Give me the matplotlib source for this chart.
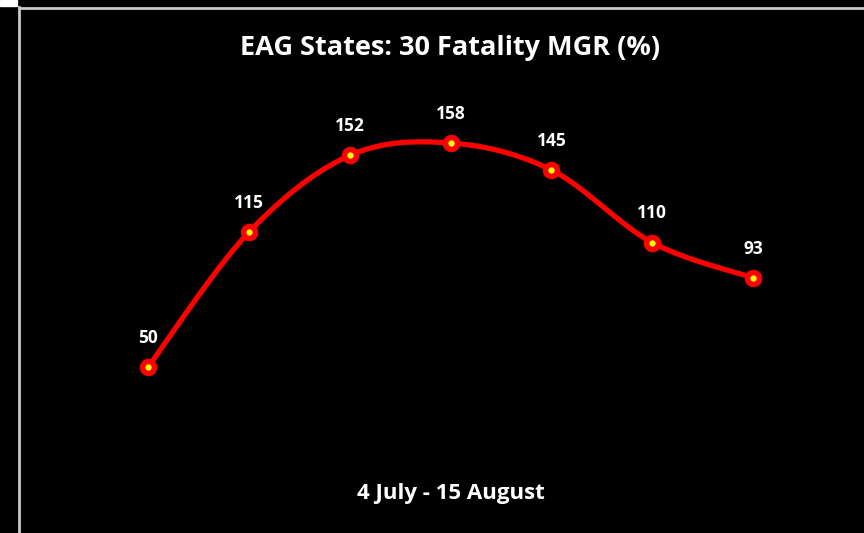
import numpy as np
import matplotlib.pyplot as plt
from matplotlib.lines import Line2D
from matplotlib.patches import Rectangle

# data
periods = ['P1', 'P2', 'P3', 'P4', 'P5', 'P6', 'P7']
mgr = [50, 115, 152, 158, 145, 110, 93]
title = 'EAG States: 30 Fatality MGR (%)'
subtitle = '4 July - 15 August'

plt.rcParams['font.family'] = ['Open Sans', 'DejaVu Sans']


def smooth(xs, ys, n=30):
    # catmull-rom style curve through the points, like a smoothed line in excel
    xs = np.asarray(xs, float)
    ys = np.asarray(ys, float)
    px = np.concatenate([[xs[0]], xs, [xs[-1]]])
    py = np.concatenate([[ys[0]], ys, [ys[-1]]])
    outx, outy = [], []
    for i in range(1, len(px) - 2):
        t = np.linspace(0, 1, n)
        for arr, out in ((px, outx), (py, outy)):
            p0, p1, p2, p3 = arr[i - 1], arr[i], arr[i + 1], arr[i + 2]
            c1 = p1 + (p2 - p0) / 6
            c2 = p2 - (p3 - p1) / 6
            out.extend((1 - t) ** 3 * p1 + 3 * (1 - t) ** 2 * t * c1 + 3 * (1 - t) * t ** 2 * c2 + t ** 3 * p2)
    return np.array(outx), np.array(outy)


fig = plt.figure(figsize=(8.64, 5.33), dpi=100, facecolor='black')
ax = fig.add_axes([0, 0, 1, 1])
ax.set_facecolor('black')
x = np.arange(len(mgr))
sx, sy = smooth(x, mgr)
ax.plot(sx, sy, color='#ff0000', lw=3.8, solid_capstyle='round', zorder=2)
ax.plot(x, mgr, 'o', ms=8.6, mfc='#ffff00', mec='#ff0000', mew=4, zorder=3)
for xi, v in zip(x, mgr):
    ax.annotate(str(v), (xi, v), xytext=(0, 21), textcoords='offset points',
                ha='center', va='center', color='white', fontsize=12.5, fontweight='bold')

ax.set_xlim(-1.468, 7.101)
ax.set_ylim(-30.04, 226.95)
ax.axis('off')

fig.text(0.521, 1 - 48 / 533, title, ha='center', va='center', color='white',
         fontsize=19.5, fontweight='bold')
fig.text(0.522, 1 - 493 / 533, subtitle, ha='center', va='center', color='white',
         fontsize=16, fontweight='bold')

# frame lines of the cropped chart area
fig.add_artist(Line2D([19 / 864, 1], [1 - 7.5 / 533, 1 - 7.5 / 533], color='#c8c8c8', lw=2))
fig.add_artist(Line2D([18.5 / 864, 18.5 / 864], [0, 1 - 7 / 533], color='#c8c8c8', lw=2))
fig.add_artist(Rectangle((0, 1 - 6 / 533), 17 / 864, 6 / 533, color='white', transform=fig.transFigure))

fig.savefig('out.png', dpi=100, facecolor='black')
